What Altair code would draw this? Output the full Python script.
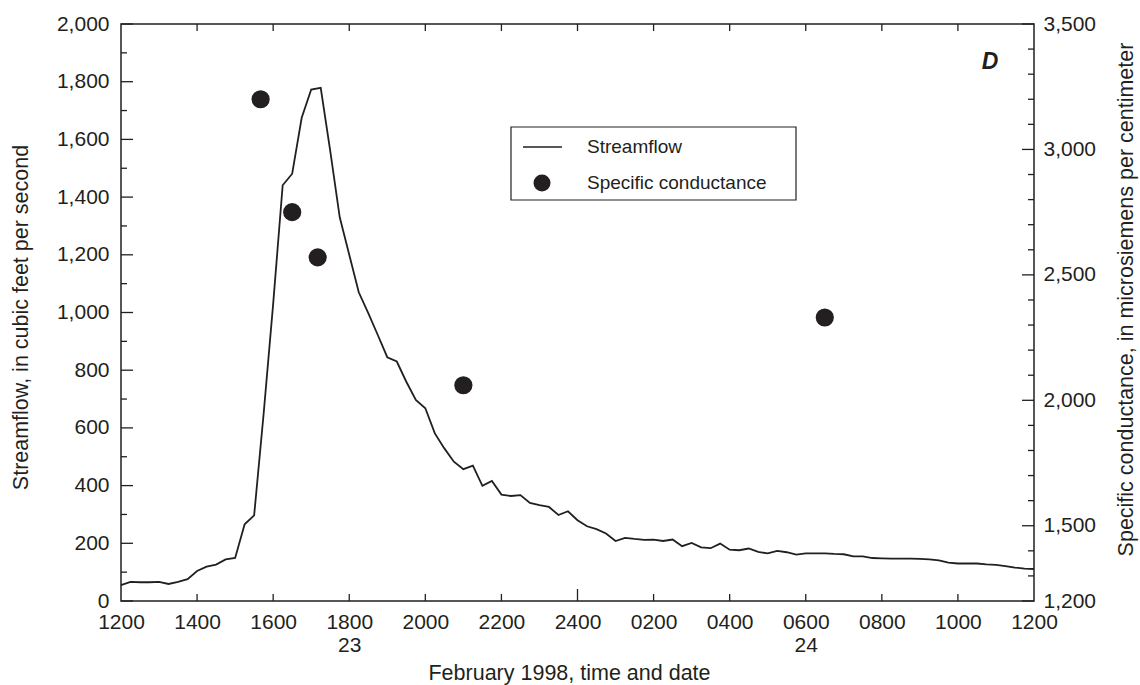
import altair as alt
import pandas as pd

INK = "#231f20"
NUM_FONT = "Liberation Sans, Arial, sans-serif"
TXT_FONT = "Liberation Sans, Arial, sans-serif"

# Streamflow, hours after 1200 on Feb 22, 1998 (cubic feet per second)
flow_hours = [0, 0.25, 0.5, 0.75, 1.0, 1.25, 1.5, 1.75, 2.0, 2.25, 2.5, 2.75, 3.0, 3.25, 3.5, 3.75,
              4.0, 4.25, 4.5, 4.75, 5.0, 5.25, 5.5, 5.75, 6.0, 6.25, 6.5, 6.75, 7.0, 7.25, 7.5, 7.75,
              8.0, 8.25, 8.5, 8.75, 9.0, 9.25, 9.5, 9.75, 10.0, 10.25, 10.5, 10.75, 11.0, 11.25, 11.5, 11.75,
              12.0, 12.25, 12.5, 12.75, 13.0, 13.25, 13.5, 13.75, 14.0, 14.25, 14.5, 14.75, 15.0, 15.25, 15.5, 15.75,
              16.0, 16.25, 16.5, 16.75, 17.0, 17.25, 17.5, 17.75, 18.0, 18.25, 18.5, 18.75, 19.0, 19.25, 19.5, 19.75,
              20.0, 20.25, 20.5, 20.75, 21.0, 21.25, 21.5, 21.75, 22.0, 22.25, 22.5, 22.75, 23.0, 23.25, 23.5, 23.75, 24.0]
flow_cfs = [55, 66, 65, 65, 66, 59, 66, 76, 104, 119, 126, 144, 149, 266, 297, 650,
            1030, 1441, 1481, 1675, 1773, 1779, 1560, 1330, 1200, 1070, 998, 922, 845, 830, 760, 697,
            668, 581, 529, 483, 457, 469, 399, 416, 369, 364, 367, 340, 332, 326, 298, 311,
            280, 259, 249, 234, 208, 219, 215, 212, 213, 208, 213, 190, 201, 186, 183, 199,
            178, 176, 182, 170, 165, 174, 169, 161, 165, 165, 165, 163, 162, 155, 155, 149,
            148, 147, 147, 147, 146, 144, 141, 133, 130, 130, 130, 127, 125, 121, 116, 112, 111]

# Specific conductance samples (microsiemens per centimeter)
sc_hours = [3.67, 4.5, 5.17, 9.0, 18.5]
sc_values = [3200, 2750, 2570, 2060, 2330]

# Axis ticks and labels
x_tick_hours = [0, 2, 4, 6, 8, 10, 12, 14, 16, 18, 20, 22, 24]
x_tick_labels = ["1200", "1400", "1600", "1800", "2000", "2200", "2400",
                 "0200", "0400", "0600", "0800", "1000", "1200"]
x_date_labels = {6: "23", 18: "24"}
x_inner_ticks = [2, 4, 6, 8, 10, 14, 16, 18, 20, 22]
x_midnight_tick = [12]
left_major = [0, 200, 400, 600, 800, 1000, 1200, 1400, 1600, 1800, 2000]
left_minor = [100, 300, 500, 700, 900, 1100, 1300, 1500, 1700, 1900]
right_major = [1200, 1500, 2000, 2500, 3000, 3500]
right_minor = [1300, 1400, 1600, 1700, 1800, 1900, 2100, 2200, 2300, 2400,
               2600, 2700, 2800, 2900, 3100, 3200, 3300, 3400]

W, H = 913, 577

flow_df = pd.DataFrame({"t": flow_hours, "q": flow_cfs})
sc_df = pd.DataFrame({"t": sc_hours, "sc": sc_values})
one = pd.DataFrame({"k": [0]})

xscale = alt.Scale(domain=[0, 24], nice=False, zero=False)
lscale = alt.Scale(domain=[0, 2000], nice=False, zero=True)
rscale = alt.Scale(domain=[1200, 3500], nice=False, zero=False)

parts = []
for h, lab in zip(x_tick_hours, x_tick_labels):
    if h in x_date_labels:
        parts.append("['%s','%s']" % (lab, x_date_labels[h]))
    else:
        parts.append("'%s'" % lab)
x_label_expr = "[" + ",".join(parts) + "][round(datum.value/2)]"

x_axis = alt.Axis(
    values=x_tick_hours, labelExpr=x_label_expr, ticks=False, domain=False, grid=False,
    labelFont=NUM_FONT, labelFontSize=21, labelColor=INK, labelPadding=10,
    labelLineHeight=23, labelFlush=False, labelOverlap=False,
    title="February 1998, time and date", titleFont=TXT_FONT, titleFontSize=21.5,
    titleFontWeight="normal", titleColor=INK, titleX=448, titleY=72,
    titleAlign="center", titleBaseline="middle")

line = alt.Chart(flow_df).mark_line(color=INK, strokeWidth=1.8).encode(
    x=alt.X("t:Q", scale=xscale, axis=x_axis),
    y=alt.Y("q:Q", scale=lscale, axis=alt.Axis(
        orient="left", values=left_major, format=",.0f", ticks=False, domain=False, grid=False,
        labelFont=NUM_FONT, labelFontSize=21, labelColor=INK, labelPadding=12,
        labelFlush=False, labelOverlap=False,
        title="Streamflow, in cubic feet per second", titleFont=TXT_FONT, titleFontSize=21.5,
        titleFontWeight="normal", titleColor=INK, titleX=-100, titleY=293, titleAngle=270,
        titleAlign="center", titleBaseline="middle")),
)

points = alt.Chart(sc_df).mark_point(filled=True, color=INK, opacity=1, size=330).encode(
    x=alt.X("t:Q", scale=xscale, axis=x_axis),
    y=alt.Y("sc:Q", scale=rscale, axis=alt.Axis(
        orient="right", values=right_major, format=",.0f", ticks=False, domain=False, grid=False,
        labelFont=NUM_FONT, labelFontSize=21, labelColor=INK, labelPadding=9,
        labelFlush=False, labelOverlap=False,
        title="Specific conductance, in microsiemens per centimeter", titleFont=TXT_FONT,
        titleFontSize=21.5, titleFontWeight="normal", titleColor=INK, titleX=92, titleY=275,
        titleAngle=270, titleAlign="center", titleBaseline="middle")),
)


def yticks(vals, scale, x0, x1):
    return alt.Chart(pd.DataFrame({"v": vals})).mark_rule(color=INK, strokeWidth=1.3).encode(
        y=alt.Y("v:Q", scale=scale, axis=None), x=alt.value(x0), x2=alt.value(x1))


def xticks(vals, y0, y1):
    return alt.Chart(pd.DataFrame({"t": vals})).mark_rule(color=INK, strokeWidth=1.3).encode(
        x=alt.X("t:Q", scale=xscale, axis=x_axis), y=alt.value(y0), y2=alt.value(y1))


tick_layers = [
    yticks(left_major, lscale, 0, 12),
    yticks(left_minor, lscale, 0, 6),
    yticks(right_major, rscale, W, W - 12),
    yticks(right_minor, rscale, W, W - 6),
    xticks(x_inner_ticks, H, H - 7),
    xticks(x_midnight_tick, H, H - 12),
    xticks(x_inner_ticks + x_midnight_tick, 0, 7),
]

# Legend box
leg_box = alt.Chart(one).mark_rect(fill="white", stroke=INK, strokeWidth=1.2).encode(
    x=alt.value(390), x2=alt.value(675), y=alt.value(103), y2=alt.value(176))
leg_line = alt.Chart(one).mark_rule(color=INK, strokeWidth=1.7).encode(
    x=alt.value(402), x2=alt.value(441), y=alt.value(123))
leg_dot = alt.Chart(one).mark_point(filled=True, color=INK, opacity=1, size=290).encode(
    x=alt.value(421), y=alt.value(159))
leg_t1 = alt.Chart(one).mark_text(text="Streamflow", font=TXT_FONT, fontSize=19, color=INK,
                                  align="left", baseline="middle").encode(
    x=alt.value(466), y=alt.value(123))
leg_t2 = alt.Chart(one).mark_text(text="Specific conductance", font=TXT_FONT, fontSize=19,
                                  color=INK, align="left", baseline="middle").encode(
    x=alt.value(466), y=alt.value(159))
panel = alt.Chart(one).mark_text(text="D", font=TXT_FONT, fontSize=23, fontWeight="bold",
                                 fontStyle="italic", color=INK, align="center",
                                 baseline="middle").encode(
    x=alt.value(869), y=alt.value(38))

chart = alt.layer(line, points, *tick_layers, leg_box, leg_line, leg_dot, leg_t1, leg_t2, panel
                  ).resolve_scale(y="independent").properties(
    width=W, height=H,
    autosize=alt.AutoSizeParams(type="none"),
    padding={"left": 121, "top": 24, "right": 106, "bottom": 84},
    background="white",
).configure_view(stroke=INK, strokeWidth=1.5)

chart.save("out.html", embed_options={"renderer": "svg", "actions": False})
